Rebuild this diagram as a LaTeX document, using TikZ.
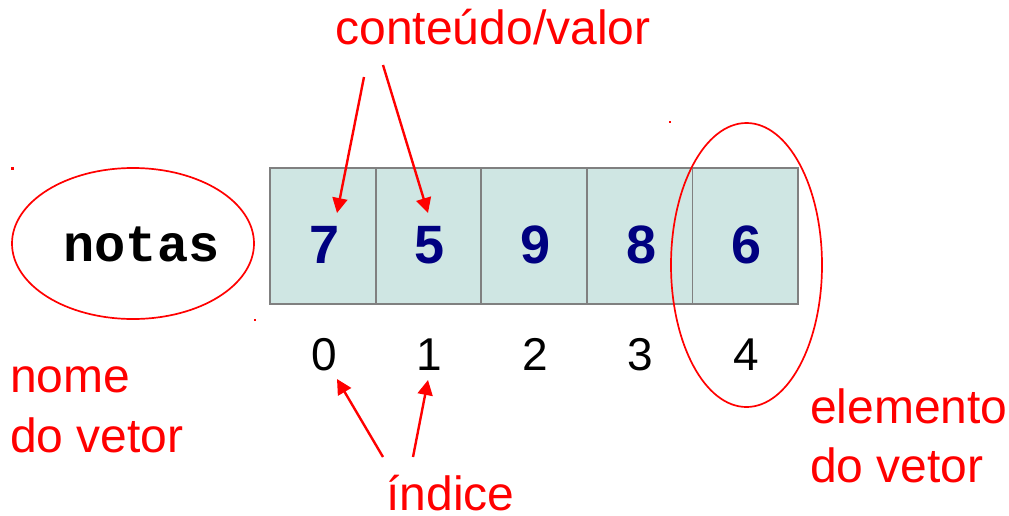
\documentclass[tikz,border=0pt]{standalone}
\usepackage{fontspec}
\setmainfont{Liberation Sans}
\newfontfamily\monob{Liberation Mono}
\usetikzlibrary{arrows.meta,shapes.geometric}
\definecolor{cellfill}{HTML}{CFE6E3}
\definecolor{cellline}{HTML}{808080}
\definecolor{navy}{HTML}{000080}
\tikzset{
  cellbox/.style={draw=cellline,line width=1.8pt,fill=cellfill,minimum width=105.6pt,minimum height=136pt,inner sep=0pt},
  valtxt/.style={anchor=base,inner sep=0pt,text=navy,font=\fontsize{54pt}{60pt}\selectfont\bfseries},
  idxtxt/.style={anchor=base,inner sep=0pt,font=\fontsize{46pt}{56pt}\selectfont},
  redtxt/.style={inner sep=0pt,text=red,font=\fontsize{48pt}{60pt}\selectfont},
  redring/.style={draw=red,line width=1.7pt,ellipse,inner sep=0pt},
  redarrow/.style={draw=red,line width=2.4pt,-{Triangle[length=15pt,width=15pt]}},
  dotmark/.style={fill=red,minimum size=2.5pt,inner sep=0pt}
}
\begin{document}
\begin{tikzpicture}[x=1pt,y=-1pt]
\useasboundingbox (0,0) rectangle (1009,515);
% cells
\foreach \i/\cx/\v in {0/322.8/7,1/428.4/5,2/534/9,3/639.6/8,4/745.2/6}{
  \node[cellbox] (cell\i) at (\cx,236) {};
  \node[valtxt] (val\i) at (\cx+1.5,263) {\v};
  \node[idxtxt] (idx\i) at (\cx+1,370) {\i};
}
% name
\node[inner sep=0pt,anchor=base,font=\fontsize{52pt}{60pt}\monob\bfseries] (nome) at (141.5,261) {notas};
\node[redring,minimum width=242pt,minimum height=151pt] (ringname) at (133,243.5) {};
\node[redring,minimum width=151pt,minimum height=284pt] (ringelem) at (746.5,265) {};
% labels
\node[redtxt,anchor=base] (lconteudo) at (493,44) {conteúdo/valor};
\node[redtxt,anchor=base west] (lnome1) at (10,392) {nome};
\node[redtxt,anchor=base west] (lnome2) at (10,452) {do vetor};
\node[redtxt,anchor=base west] (lelem1) at (810,423) {elemento};
\node[redtxt,anchor=base west] (lelem2) at (810,482) {do vetor};
\node[redtxt,anchor=base] (lindice) at (450.5,510) {índice};
% arrow ends
\coordinate (ca) at (364,77);
\coordinate (cb) at (383,65);
\coordinate (ta) at (337,213);
\coordinate (tb) at (428,213);
\coordinate (ia) at (383,457);
\coordinate (ib) at (413,457);
\coordinate (ua) at (337,379);
\coordinate (ub) at (428,380);
\draw[redarrow] (ca) -- (ta);
\draw[redarrow] (cb) -- (tb);
\draw[redarrow] (ia) -- (ua);
\draw[redarrow] (ib) -- (ub);
% small marks
\node[dotmark] (m1) at (12.7,168.3) {};
\node[dotmark] (m2) at (255,320) {};
\node[dotmark] (m3) at (670,122) {};
\end{tikzpicture}
\end{document}
